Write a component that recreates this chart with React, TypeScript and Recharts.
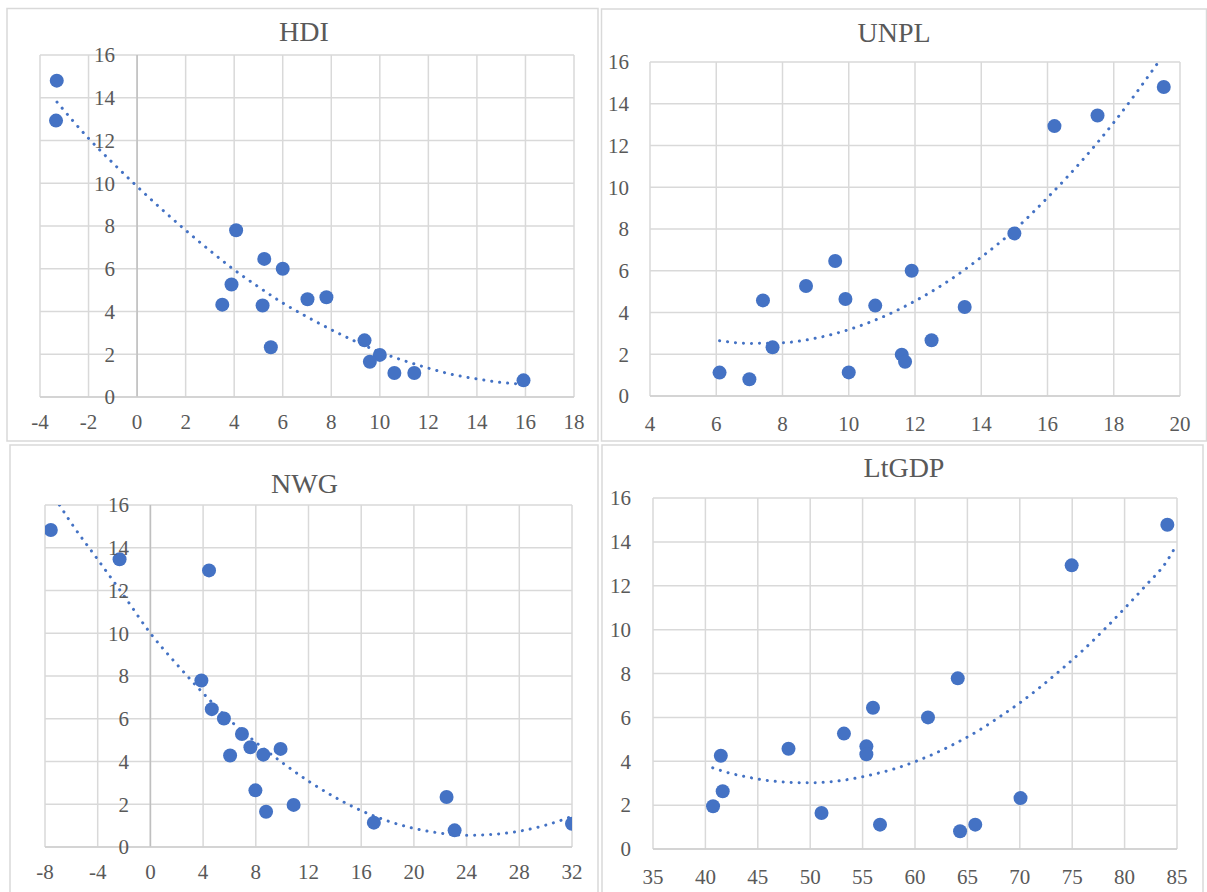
import React from "react";
import { ScatterChart, Scatter, XAxis, YAxis, CartesianGrid, ReferenceLine } from "recharts";

const FONT = '"Liberation Serif", "Times New Roman", serif';
const TEXT = "#595959";
const BLUE = "#4472C4";
const GRID = "#d9d9d9";

// shared y axis ticks
const yTicks = [0, 2, 4, 6, 8, 10, 12, 14, 16];

// HDI panel
const hdiTicks = [-4, -2, 0, 2, 4, 6, 8, 10, 12, 14, 16, 18];
const hdiX = [-3.31, -3.34, 4.08, 5.24, 6.0, 3.89, 3.51, 5.17, 7.02, 7.8, 5.51, 9.37, 10.0, 9.59, 10.6, 11.42, 15.92];
const hdiY = [14.8, 12.93, 7.8, 6.46, 6.0, 5.26, 4.32, 4.28, 4.57, 4.67, 2.33, 2.65, 1.97, 1.65, 1.12, 1.12, 0.78];
const hdiTrendX = [-3.3, -2, -1, 0, 1, 2, 3, 4, 5, 6, 7, 8, 9, 10, 11, 12, 13, 14, 15, 15.9];
const hdiTrendY = [13.8, 12.1, 10.95, 9.85, 8.8, 7.8, 6.85, 5.95, 5.15, 4.4, 3.75, 3.15, 2.6, 2.1, 1.7, 1.35, 1.05, 0.85, 0.68, 0.6];

// UNPL panel
const unplTicks = [4, 6, 8, 10, 12, 14, 16, 18, 20];
const unplX = [19.51, 17.51, 16.21, 15.0, 9.59, 11.9, 8.71, 7.41, 9.9, 10.8, 13.5, 7.7, 12.5, 11.6, 11.7, 6.1, 7.0, 10.0];
const unplY = [14.8, 13.44, 12.93, 7.79, 6.47, 6.0, 5.27, 4.58, 4.65, 4.33, 4.26, 2.33, 2.67, 1.98, 1.64, 1.12, 0.8, 1.13];
const unplTrendX = [6.1, 7, 8, 9, 10, 11, 12, 13, 14, 15, 16, 17, 18, 19.35];
const unplTrendY = [2.65, 2.52, 2.55, 2.77, 3.18, 3.77, 4.55, 5.5, 6.65, 7.95, 9.5, 11.2, 13.1, 16.0];

// NWG panel
const nwgTicks = [-8, -4, 0, 4, 8, 12, 16, 20, 24, 28, 32];
const nwgX = [-7.56, -2.34, 4.45, 3.87, 4.66, 5.58, 6.95, 7.59, 8.57, 9.88, 6.05, 7.97, 8.78, 10.87, 16.96, 22.48, 23.09, 32.0];
const nwgY = [14.83, 13.46, 12.94, 7.79, 6.45, 6.01, 5.29, 4.67, 4.32, 4.59, 4.28, 2.65, 1.65, 1.97, 1.14, 2.34, 0.78, 1.09];
const nwgTrendX = [-6.9, -6, -4, -2, 0, 2, 4, 6, 8, 10, 12, 14, 16, 18, 20, 22, 24, 26, 28, 30, 32];
const nwgTrendY = [16.0, 15.15, 13.45, 11.75, 10.0, 8.55, 7.2, 5.95, 4.9, 3.95, 3.08, 2.33, 1.7, 1.22, 0.87, 0.65, 0.55, 0.59, 0.74, 1.02, 1.43];

// LtGDP panel
const gdpTicks = [35, 40, 45, 50, 55, 60, 65, 70, 75, 80, 85];
const gdpX = [84.08, 74.95, 64.08, 55.99, 61.24, 53.22, 47.93, 55.36, 55.36, 41.47, 41.65, 40.73, 51.08, 56.66, 64.3, 65.75, 70.07];
const gdpY = [14.78, 12.93, 7.78, 6.44, 6.0, 5.26, 4.57, 4.68, 4.32, 4.25, 2.63, 1.95, 1.64, 1.11, 0.81, 1.11, 2.32];
const gdpTrendX = [40.7, 42, 44, 46, 48, 50, 52, 54, 56, 58, 60, 62, 64, 66, 68, 70, 72, 74, 76, 78, 80, 82, 84, 85];
const gdpTrendY = [3.7, 3.5, 3.28, 3.12, 3.04, 3.02, 3.07, 3.2, 3.4, 3.65, 3.98, 4.38, 4.85, 5.38, 6.0, 6.66, 7.4, 8.2, 9.05, 9.98, 10.97, 12.0, 13.1, 13.9];

const zip = (xs: number[], ys: number[]) => xs.map((x, i) => ({ x, y: ys[i] }));

const XH = 40;
const YW = 10;

const Dot = (props: any) => <circle cx={props.cx} cy={props.cy} r={7} fill={BLUE} />;
const NoDot = () => <g />;

type PanelProps = {
    left: number; top: number; w: number; h: number;
    L: number; R: number; T: number; B: number;
    yLabelRight: number; xGap: number;
    ticks: number[]; xs: number[]; ys: number[]; tx: number[]; ty: number[];
    zero?: boolean;
};

const Panel = (p: PanelProps) => {
    const YTick = (props: any) => (
        <text x={p.yLabelRight} y={props.y} dy="0.35em" textAnchor="end" fill={TEXT} fontSize={21} fontFamily={FONT}>
            {props.payload.value}
        </text>
    );
    const XTick = (props: any) => (
        <text x={props.x} y={p.B + p.xGap} dy="0.35em" textAnchor="middle" fill={TEXT} fontSize={21} fontFamily={FONT}>
            {props.payload.value}
        </text>
    );
    const dom = [p.ticks[0], p.ticks[p.ticks.length - 1]];
    return (
        <div style={{ position: "absolute", left: p.left, top: p.top }}>
            <ScatterChart
                width={p.w}
                height={p.h}
                margin={{ left: p.L - YW, right: p.w - p.R, top: p.T, bottom: p.h - p.B - XH }}
            >
                <CartesianGrid stroke={GRID} strokeWidth={1.5} />
                <XAxis
                    type="number" dataKey="x" domain={dom} ticks={p.ticks} height={XH}
                    axisLine={{ stroke: "#cfcfcf", strokeWidth: 1.5 }} tickLine={false} tick={XTick}
                    allowDataOverflow interval={0}
                />
                <YAxis
                    type="number" dataKey="y" domain={[0, 16]} ticks={yTicks} width={YW}
                    axisLine={false} tickLine={false} tick={YTick} allowDataOverflow interval={0}
                />
                {p.zero && <ReferenceLine x={0} stroke="#bfbfbf" strokeWidth={1.5} />}
                <Scatter data={zip(p.xs, p.ys)} shape={Dot} isAnimationActive={false} />
                <Scatter
                    data={zip(p.tx, p.ty)}
                    shape={NoDot}
                    line={{ stroke: BLUE, strokeWidth: 3, strokeDasharray: "0.1 7.9", strokeLinecap: "round" }}
                    lineJointType="monotoneX"
                    isAnimationActive={false}
                />
            </ScatterChart>
        </div>
    );
};

const titleStyle = { fill: TEXT, fontSize: 28, fontFamily: FONT };

export default function App() {
    return (
        <div style={{ position: "absolute", left: 0, top: 0, width: 1207, height: 892, overflow: "hidden", background: "#fff" }}>
            <svg width={1207} height={892} style={{ position: "absolute", left: 0, top: 0 }}>
                <rect x={7} y={8.5} width={591} height={432.5} fill="none" stroke={GRID} strokeWidth={1.5} />
                <rect x={601.5} y={9} width={605} height={432} fill="none" stroke={GRID} strokeWidth={1.5} />
                <rect x={10} y={445} width={588} height={460} fill="none" stroke={GRID} strokeWidth={1.5} />
                <rect x={602} y={445} width={601} height={460} fill="none" stroke={GRID} strokeWidth={1.5} />
                <text x={304} y={41} textAnchor="middle" {...titleStyle}>HDI</text>
                <text x={894} y={42} textAnchor="middle" {...titleStyle}>UNPL</text>
                <text x={304.5} y={493} textAnchor="middle" {...titleStyle}>NWG</text>
                <text x={904} y={477} textAnchor="middle" {...titleStyle}>LtGDP</text>
            </svg>
            <Panel left={0} top={0} w={600} h={445} L={40} R={574} T={55} B={397} yLabelRight={115} xGap={25}
                ticks={hdiTicks} xs={hdiX} ys={hdiY} tx={hdiTrendX} ty={hdiTrendY} zero />
            <Panel left={600} top={0} w={607} h={445} L={50} R={580} T={62} B={396} yLabelRight={29} xGap={28}
                ticks={unplTicks} xs={unplX} ys={unplY} tx={unplTrendX} ty={unplTrendY} />
            <Panel left={0} top={445} w={600} h={447} L={45} R={572} T={60} B={402} yLabelRight={129} xGap={25}
                ticks={nwgTicks} xs={nwgX} ys={nwgY} tx={nwgTrendX} ty={nwgTrendY} zero />
            <Panel left={600} top={445} w={607} h={447} L={53} R={577} T={53} B={404} yLabelRight={31} xGap={28}
                ticks={gdpTicks} xs={gdpX} ys={gdpY} tx={gdpTrendX} ty={gdpTrendY} />
        </div>
    );
}
